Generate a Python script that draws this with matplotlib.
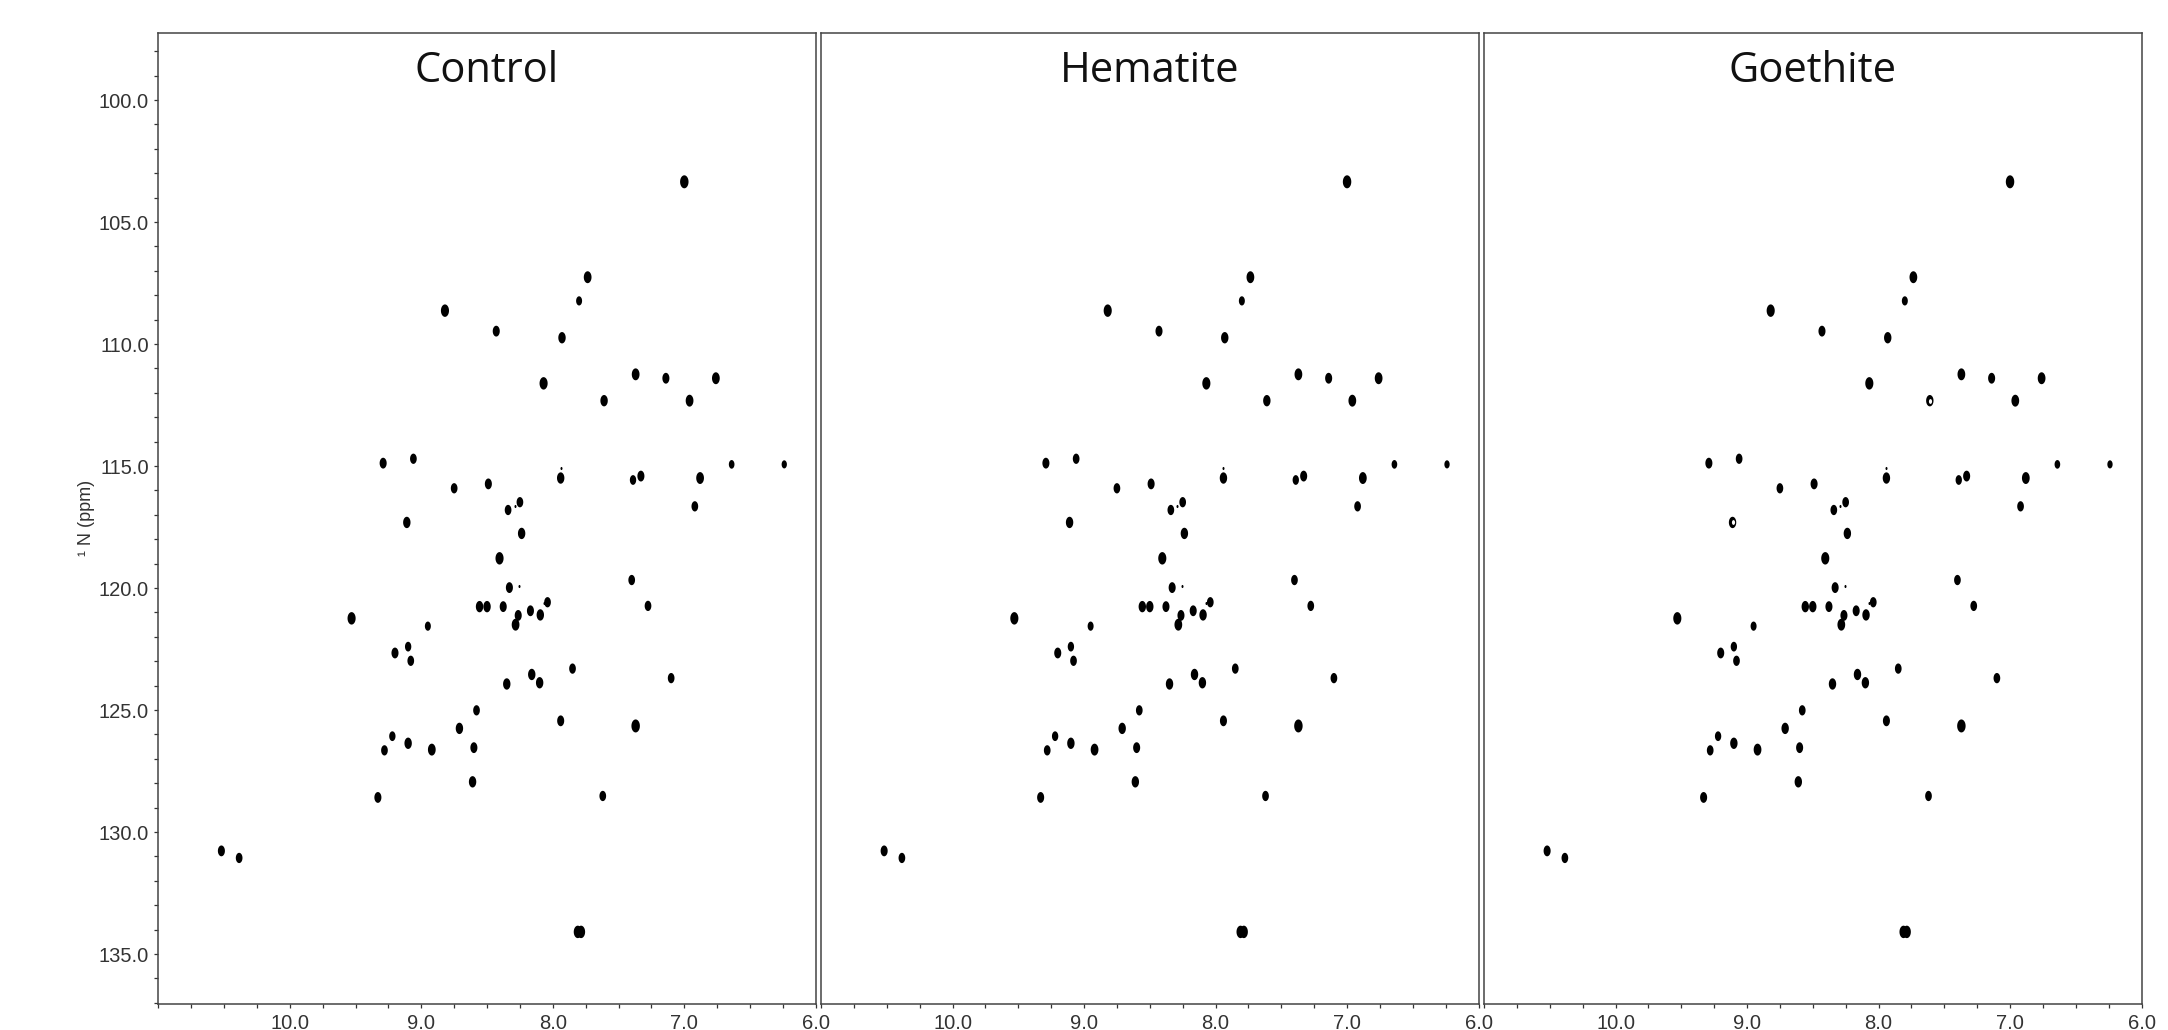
import numpy as np
import matplotlib
matplotlib.use('Agg')
import matplotlib.pyplot as plt
from matplotlib.ticker import FixedLocator, MultipleLocator, FormatStrFormatter

plt.rcParams['font.family'] = ['Liberation Sans', 'DejaVu Sans']

panels = ['Control', 'Hematite', 'Goethite']

# HSQC cross peaks: 1H shift, 15N shift (ppm) and rough relative intensity
h_ppm = [7.00, 7.735, 7.80, 8.82, 8.43, 7.93, 8.07, 7.37, 7.14, 6.76,
         7.61, 6.96, 9.29, 9.06, 6.64, 6.24, 7.94, 7.39, 7.33, 6.88,
         8.75, 8.49, 8.25, 8.34, 6.92, 9.11, 8.237, 8.405, 7.40, 8.33,
         9.53, 8.557, 8.50, 8.377, 8.17, 8.04, 8.095, 8.263, 8.283, 7.276,
         8.95, 9.20, 9.10, 9.08, 7.85, 8.16, 8.10, 8.35, 7.10, 8.58,
         7.94, 7.37, 8.71, 9.22, 9.10, 9.28, 8.92, 8.60, 8.61, 9.33,
         7.62, 10.52, 10.385, 7.785, 7.81]
n_ppm = [103.35, 107.26, 108.23, 108.63, 109.47, 109.74, 111.61, 111.24, 111.40, 111.40,
         112.32, 112.32, 114.88, 114.70, 114.93, 114.93, 115.49, 115.57, 115.41, 115.49,
         115.91, 115.73, 116.48, 116.80, 116.65, 117.31, 117.76, 118.78, 119.67, 119.98,
         121.24, 120.76, 120.76, 120.76, 120.93, 120.58, 121.10, 121.12, 121.50, 120.73,
         121.56, 122.66, 122.40, 122.98, 123.30, 123.54, 123.88, 123.93, 123.69, 125.01,
         125.44, 125.65, 125.75, 126.07, 126.36, 126.65, 126.62, 126.54, 127.94, 128.58,
         128.52, 130.77, 131.06, 134.09, 134.09]
intensity = [1.2, 1.1, 0.85, 1.15, 1.0, 1.05, 1.15, 1.1, 1.0, 1.1,
             1.05, 1.1, 1.0, 0.95, 0.8, 0.75, 1.05, 0.9, 1.0, 1.1,
             0.95, 1.0, 0.95, 0.95, 0.95, 1.05, 1.05, 1.15, 0.95, 1.0,
             1.15, 1.05, 1.05, 1.0, 1.0, 0.95, 1.05, 1.0, 1.1, 0.95,
             0.85, 1.0, 0.9, 0.95, 0.95, 1.05, 1.05, 1.05, 0.95, 0.95,
             1.0, 1.2, 1.05, 0.9, 1.05, 0.95, 1.1, 1.0, 1.05, 1.0,
             0.95, 1.0, 0.95, 1.15, 1.15]

# faint specks near the noise level
speck_h = [8.255, 8.29, 7.94, 8.07]
speck_n = [119.90, 116.65, 115.07, 120.60]

# goethite peaks that show up as rings
ring_h = [9.11, 7.61]
ring_n = [117.31, 112.32]

x_ticks = [10.0, 9.0, 8.0, 7.0, 6.0]

t = np.linspace(0, 2 * np.pi, 48)
ellipse = list(zip(0.65 * np.cos(t), np.sin(t)))

fig = plt.figure(figsize=(21.68, 10.30), dpi=100)
lefts = [0.0730, 0.3787, 0.6845]

for i, name in enumerate(panels):
    ax = fig.add_axes([lefts[i], 0.0256, 0.3033, 0.9424])
    sizes = (7.8 * np.array(intensity)) ** 2
    ax.scatter(h_ppm, n_ppm, s=sizes, marker=ellipse, c='black', linewidths=0)
    ax.scatter(speck_h, speck_n, s=5, marker=ellipse, c='black', linewidths=0)
    if name == 'Goethite':
        ax.scatter(ring_h, ring_n, s=12, marker=ellipse, c='white', linewidths=0)

    ax.set_xlim(11.0, 6.0)
    ax.set_ylim(137.03, 97.25)
    ax.xaxis.set_major_locator(FixedLocator(x_ticks))
    ax.xaxis.set_minor_locator(MultipleLocator(0.25))
    ax.xaxis.set_major_formatter(FormatStrFormatter('%.1f'))
    ax.yaxis.set_major_locator(MultipleLocator(5))
    ax.yaxis.set_minor_locator(MultipleLocator(1))
    ax.yaxis.set_major_formatter(FormatStrFormatter('%.1f'))

    ax.tick_params(which='both', direction='out', color='#333333', width=0.9,
                   labelsize=14.5, labelcolor='#333333')
    ax.tick_params(which='major', length=3.2)
    ax.tick_params(which='minor', length=3.0)
    ax.tick_params(axis='x', which='both', pad=4)
    ax.tick_params(axis='y', which='both', pad=3.5)
    for sp in ax.spines.values():
        sp.set_color('#444444')
        sp.set_linewidth(1.1)

    if i == 0:
        ax.set_ylabel('¹ N (ppm)', fontsize=13, color='#333333', labelpad=3)
    else:
        ax.tick_params(axis='y', which='both', left=False, labelleft=False)

    ax.text(0.5, 0.949, name, transform=ax.transAxes, ha='center', va='baseline',
            fontsize=30, family='Open Sans', color='#111111')

fig.savefig('out.png', dpi=100)
